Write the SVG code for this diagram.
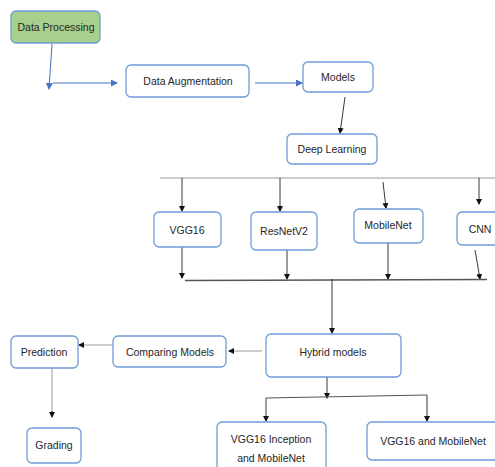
<svg xmlns="http://www.w3.org/2000/svg" width="495" height="467" viewBox="0 0 495 467">
<style>
.box{fill:#fff;stroke:#6f9bd8;stroke-width:1.3}
.green{fill:#a8d08d;stroke:#6f9bd8;stroke-width:1.3}
.t{font-family:"Liberation Sans",Arial,sans-serif;font-size:10.5px;fill:#262626;text-anchor:middle;dominant-baseline:central}
.k{stroke:#222;stroke-width:0.9;fill:none}
.g{stroke:#9a9a9a;stroke-width:1;fill:none}
.b{stroke:#4472c4;stroke-width:1;fill:none}
.bar{stroke:#555;stroke-width:1.6;fill:none}
</style>
<defs>
<marker id="ak" markerWidth="6" markerHeight="6" refX="5" refY="3" orient="auto" markerUnits="userSpaceOnUse"><path d="M0,0 L6,3 L0,6 z" fill="#111"/></marker>
<marker id="ab" markerWidth="7" markerHeight="7" refX="6" refY="3.5" orient="auto" markerUnits="userSpaceOnUse"><path d="M0,0 L7,3.5 L0,7 z" fill="#4472c4"/></marker>
</defs>
<rect width="495" height="467" fill="#fff"/>
<g id="connectors">
<path class="b" d="M52,44 L49,89" marker-end="url(#ab)"/>
<path class="b" d="M53,83 L117,83" marker-end="url(#ab)"/>
<path class="b" d="M255,83 L302,83" marker-end="url(#ab)"/>
<path class="k" d="M345,97 L340,133" marker-end="url(#ak)"/>
<path class="g" d="M160,178 L495,178"/>
<path class="k" d="M182,178 L182,211" marker-end="url(#ak)"/>
<path class="k" d="M280,178 L280,211" marker-end="url(#ak)"/>
<path class="k" d="M383,182 L386,208" marker-end="url(#ak)"/>
<path class="k" d="M479,178 L479,204" marker-end="url(#ak)"/>
<path class="k" d="M182,247 L182,278" marker-end="url(#ak)"/>
<path class="k" d="M287,250 L287,279" marker-end="url(#ak)"/>
<path class="k" d="M388,243 L388,279" marker-end="url(#ak)"/>
<path class="k" d="M475,250 L480,279" marker-end="url(#ak)"/>
<path class="bar" d="M185,280.5 L487,279.5"/>
<path class="k" d="M332,279 L332,333" marker-end="url(#ak)"/>
<path class="g" d="M262,351 L229,351"/>
<path class="k" d="M234,351 L229,351" marker-end="url(#ak)"/>
<path class="g" d="M113,345 L79,345"/>
<path class="k" d="M84,345 L79,345" marker-end="url(#ak)"/>
<path class="g" d="M52,368 L52,416"/>
<path class="k" d="M52,411 L52,417" marker-end="url(#ak)"/>
<path class="k" d="M327,377 L327,398" marker-end="url(#ak)"/>
<path class="bar" d="M266,398 L427,395" style="stroke-width:1.2"/>
<path class="k" d="M266,398 L266,421" marker-end="url(#ak)"/>
<path class="k" d="M427,395 L427,421" marker-end="url(#ak)"/>
</g>
<g id="data-processing"><rect class="green" x="11" y="11" width="89" height="32" rx="5"/><text class="t" x="56" y="27">Data Processing</text></g>
<g id="data-augmentation"><rect class="box" x="126" y="65" width="123" height="32" rx="5"/><text class="t" x="188" y="81">Data Augmentation</text></g>
<g id="models"><rect class="box" x="303" y="62" width="70" height="30" rx="5"/><text class="t" x="338" y="77">Models</text></g>
<g id="deep-learning"><rect class="box" x="287" y="134" width="90" height="30" rx="5"/><text class="t" x="332" y="149">Deep Learning</text></g>
<g id="vgg16"><rect class="box" x="154" y="212" width="67" height="35" rx="5"/><text class="t" x="187" y="230">VGG16</text></g>
<g id="resnetv2"><rect class="box" x="251" y="212" width="66" height="38" rx="5"/><text class="t" x="284" y="231">ResNetV2</text></g>
<g id="mobilenet"><rect class="box" x="354" y="209" width="69" height="34" rx="5"/><text class="t" x="388" y="225">MobileNet</text></g>
<g id="cnn"><rect class="box" x="457" y="212" width="45" height="33" rx="5"/><text class="t" x="480" y="229">CNN</text></g>
<g id="hybrid-models"><rect class="box" x="266" y="334" width="135" height="43" rx="5"/><text class="t" x="333" y="352">Hybrid models</text></g>
<g id="comparing-models"><rect class="box" x="113" y="336" width="113" height="31" rx="5"/><text class="t" x="170" y="352">Comparing Models</text></g>
<g id="prediction"><rect class="box" x="11" y="336" width="67" height="32" rx="5"/><text class="t" x="44" y="352">Prediction</text></g>
<g id="grading"><rect class="box" x="27" y="428" width="54" height="35" rx="5"/><text class="t" x="54" y="445">Grading</text></g>
<g id="vgg16-inception-mobilenet"><rect class="box" x="217" y="422" width="109" height="50" rx="5"/><text class="t" x="271" y="439">VGG16 Inception</text><text class="t" x="271" y="458">and MobileNet</text></g>
<g id="vgg16-mobilenet"><rect class="box" x="367" y="422" width="135" height="38" rx="5"/><text class="t" x="433" y="441">VGG16 and MobileNet</text></g>
</svg>
